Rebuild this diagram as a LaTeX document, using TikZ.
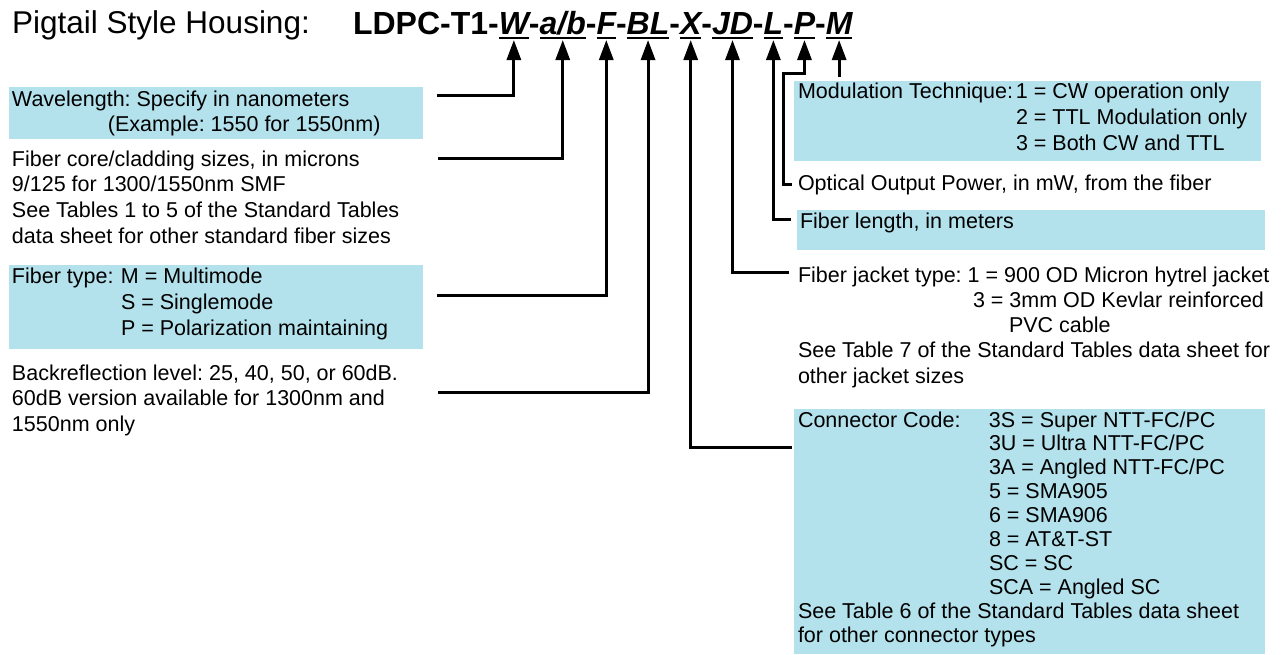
\documentclass[tikz,border=0pt]{standalone}
\usepackage{fontspec}
\setmainfont{Liberation Sans}
\usetikzlibrary{arrows.meta,calc}
\definecolor{boxblue}{RGB}{179,225,236}
\newcommand\txtlines[1]{\begin{tabular}[t]{@{}l@{}}#1\end{tabular}}
\frenchspacing
\begin{document}
\frenchspacing
\begin{tikzpicture}[x=1pt,y=-1pt,
  box/.style={fill=boxblue, draw=none, inner sep=0pt, outer sep=0pt, anchor=north west},
  txt/.style={inner sep=0pt, outer sep=0pt, anchor=base west, font=\fontsize{21.5}{25.5}\selectfont},
  codef/.style={inner sep=0pt, outer sep=0pt, anchor=base west, font=\fontsize{32}{38}\selectfont\bfseries},
  uline/.style={line width=2pt},
  arr/.style={line width=3pt, -{Triangle[length=20pt,width=14pt]}}]
\useasboundingbox (0,0) rectangle (1282,654);

% title
\node[inner sep=0pt, anchor=base west, font=\fontsize{31.5}{36}\selectfont] (title) at (12,33) {Pigtail Style Housing:};
\node[codef] (pre) at (353,34) {LDPC-T1-};
\node[codef] (W) at (pre.base east) {\itshape W};
\node[codef] (d1) at (W.base east) {-};
\node[codef] (AB) at (d1.base east) {\itshape a/b};
\node[codef] (d2) at (AB.base east) {-};
\node[codef] (F) at (d2.base east) {\itshape F};
\node[codef] (d3) at (F.base east) {-};
\node[codef] (BL) at (d3.base east) {\itshape BL};
\node[codef] (d4) at (BL.base east) {-};
\node[codef] (X) at (d4.base east) {\itshape X};
\node[codef] (d5) at (X.base east) {-};
\node[codef] (JD) at (d5.base east) {\itshape JD};
\node[codef] (d6) at (JD.base east) {-};
\node[codef] (L) at (d6.base east) {\itshape L};
\node[codef] (d7) at (L.base east) {-};
\node[codef] (P) at (d7.base east) {\itshape P};
\node[codef] (d8) at (P.base east) {-};
\node[codef] (M) at (d8.base east) {\itshape M};

\foreach \s in {W,AB,F,BL,X,JD,L,P,M}{
  \draw[uline] ([yshift=-4pt]\s.base west) -- ([yshift=-4pt]\s.base east);
  \coordinate (t\s) at ([yshift=-6pt]\s.base);
}

% boxes
\node[box, minimum width=414pt, minimum height=52pt] (wlbox) at (9,87) {};
\node[box, minimum width=414pt, minimum height=84pt] (ftbox) at (9,265) {};
\node[box, minimum width=467pt, minimum height=80pt] (modbox) at (794,81) {};
\node[box, minimum width=468pt, minimum height=40pt] (lenbox) at (797,210) {};
\node[box, minimum width=471pt, minimum height=245pt] (conbox) at (794,409) {};

% left texts
\node[txt, font=\fontsize{21.5}{25}\selectfont] (wltxt) at (12,106) {\txtlines{Wavelength: Specify in nanometers\\\hspace*{96pt}(Example: 1550 for 1550nm)}};
\node[txt, font=\fontsize{21.5}{25.7}\selectfont] (coretxt) at (12,166) {\txtlines{Fiber core/cladding sizes, in microns\\9/125 for 1300/1550nm SMF\\See Tables 1 to 5 of the Standard Tables\\data sheet for other standard fiber sizes}};
\node[txt, font=\fontsize{21.5}{26}\selectfont] (fttxt) at (12,283) {\txtlines{\makebox[109pt][l]{Fiber type:}M = Multimode\\\hspace*{109pt}S = Singlemode\\\hspace*{109pt}P = Polarization maintaining}};
\node[txt, font=\fontsize{21.5}{25.5}\selectfont] (brtxt) at (12,380) {\txtlines{Backreflection level: 25, 40, 50, or 60dB.\\60dB version available for 1300nm and\\1550nm only}};

% right texts
\node[txt, font=\fontsize{21.5}{26}\selectfont] (modtxt) at (798,98) {\txtlines{\makebox[218pt][l]{Modulation Technique:}1 = CW operation only\\\hspace*{218pt}2 = TTL Modulation only\\\hspace*{218pt}3 = Both CW and TTL}};
\node[txt] (opttxt) at (798,190) {Optical Output Power, in mW, from the fiber};
\node[txt] (lentxt) at (800,228) {Fiber length, in meters};
\node[txt, font=\fontsize{21.5}{25.25}\selectfont] (jacktxt) at (798,282) {\txtlines{Fiber jacket type: 1 = 900 OD Micron hytrel jacket\\\hspace*{175pt}3 = 3mm OD Kevlar reinforced\\\hspace*{211pt}PVC cable\\See Table 7 of the Standard Tables data sheet for\\other jacket sizes}};
\node[txt, font=\fontsize{21.5}{23.9}\selectfont] (contxt) at (798,427) {\txtlines{\makebox[191pt][l]{Connector Code:}3S = Super NTT-FC/PC\\\hspace*{191pt}3U = Ultra NTT-FC/PC\\\hspace*{191pt}3A = Angled NTT-FC/PC\\\hspace*{191pt}5 = SMA905\\\hspace*{191pt}6 = SMA906\\\hspace*{191pt}8 = AT\&T-ST\\\hspace*{191pt}SC = SC\\\hspace*{191pt}SCA = Angled SC\\See Table 6 of the Standard Tables data sheet\\for other connector types}};

% connector free ends
\coordinate (cW) at (437,95);
\coordinate (cAB) at (438,158);
\coordinate (cF) at (437,295);
\coordinate (cBL) at (438,392);
\coordinate (cX) at (792,447);
\coordinate (cJD) at (789,272);
\coordinate (cL) at (791,219);
\coordinate (cP) at (792,184);
\coordinate (bP) at (783,73);
\coordinate (cM) at (839,77);

\draw[arr] (cW) -| (tW);
\draw[arr] (cAB) -| (tAB);
\draw[arr] (cF) -| (tF);
\draw[arr] (cBL) -| (tBL);
\draw[arr] (cX) -| (tX);
\draw[arr] (cJD) -| (tJD);
\draw[arr] (cL) -| (tL);
\draw[arr] (cP) -| (bP) -| (tP);
\draw[arr] (tM |- cM) -- (tM);
\end{tikzpicture}
\end{document}
